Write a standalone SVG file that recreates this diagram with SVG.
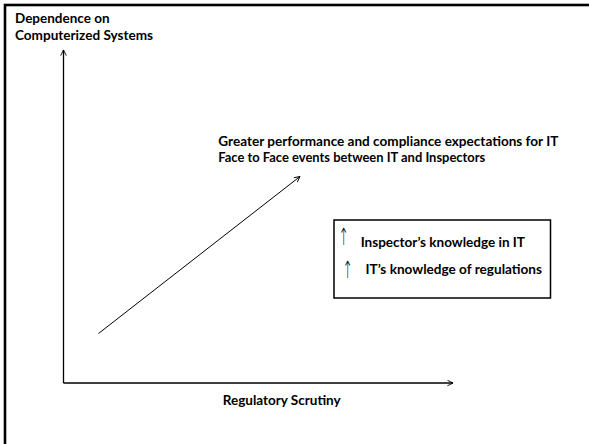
<svg xmlns="http://www.w3.org/2000/svg" width="589" height="444" viewBox="0 0 589 444">
<style>
  .t { font-family: Lato, "Liberation Sans", sans-serif; font-weight: bold; font-size: 14px; fill: #000; }
  .ar { font-family: "DejaVu Sans", sans-serif; font-weight: 200; font-size: 24px; fill: #000; text-anchor: middle; }
  .ln { stroke: #000; fill: none; }
</style>
<defs>
  <marker id="ah" viewBox="0 0 10 10" refX="9" refY="5" markerWidth="7" markerHeight="7" markerUnits="userSpaceOnUse" orient="auto">
    <path d="M1,1 L9,5 L1,9" fill="none" stroke="#000" stroke-width="1.3"/>
  </marker>
</defs>
<rect x="0" y="0" width="589" height="444" fill="#fff"/>
<g id="frame">
  <rect x="5" y="5" width="600" height="460" fill="none" stroke="#000" stroke-width="2.6"/>
</g>
<g id="connectors">
  <line class="ln" x1="63.5" y1="383" x2="63.5" y2="50" stroke-width="1.3" marker-end="url(#ah)"/>
  <line class="ln" x1="63.5" y1="383" x2="453" y2="383" stroke-width="1.3" marker-end="url(#ah)"/>
  <line class="ln" x1="98.5" y1="333.5" x2="300" y2="176.5" stroke-width="1" marker-end="url(#ah)"/>
</g>
<g id="y-axis-label">
  <text class="t" x="15" y="22.7" textLength="94.5" lengthAdjust="spacingAndGlyphs">Dependence on</text>
  <text class="t" x="15" y="40" textLength="138" lengthAdjust="spacingAndGlyphs">Computerized Systems</text>
</g>
<g id="x-axis-label">
  <text class="t" x="222.7" y="405" textLength="118" lengthAdjust="spacingAndGlyphs">Regulatory Scrutiny</text>
</g>
<g id="trend-label">
  <text class="t" x="218.3" y="146" textLength="340" lengthAdjust="spacingAndGlyphs">Greater performance and compliance expectations for IT</text>
  <text class="t" x="218.3" y="161.7" textLength="267" lengthAdjust="spacingAndGlyphs">Face to Face events between IT and Inspectors</text>
</g>
<g id="knowledge-box">
  <rect x="334" y="220" width="216.5" height="78" fill="#fff" stroke="#000" stroke-width="1.5"/>
  <text class="ar" transform="translate(343.5,245) scale(0.5,1)">↑</text>
  <text class="t" x="360.7" y="247" textLength="164.3" lengthAdjust="spacingAndGlyphs">Inspector’s knowledge in IT</text>
  <text class="ar" transform="translate(347.5,278) scale(0.5,1)">↑</text>
  <text class="t" x="365.5" y="274" textLength="176.5" lengthAdjust="spacingAndGlyphs">IT’s knowledge of regulations</text>
</g>
</svg>
